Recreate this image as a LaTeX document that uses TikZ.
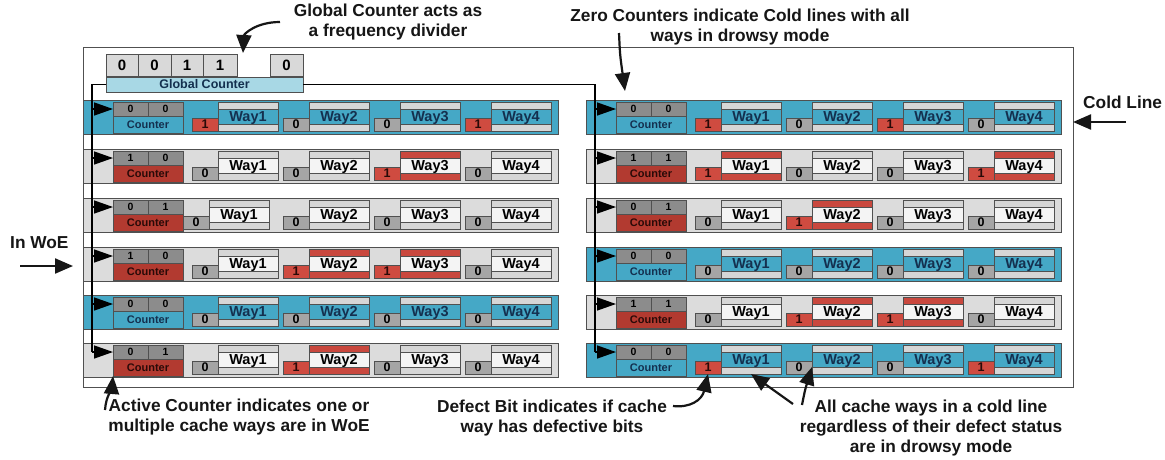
\documentclass[tikz,border=0pt]{standalone}
\usepackage{fontspec}
\setmainfont{Liberation Sans}
\usetikzlibrary{arrows.meta}
\definecolor{coldblue}{HTML}{45A8C6}
\definecolor{rowgrey}{HTML}{DCDCDC}
\definecolor{cellgrey}{HTML}{8C8C8C}
\definecolor{bitgrey}{HTML}{A5A5A5}
\definecolor{bitred}{HTML}{CF4B40}
\definecolor{stripegrey}{HTML}{D6D6D6}
\definecolor{wayred}{HTML}{C9483E}
\definecolor{cntred}{HTML}{B23A30}
\definecolor{cnttxt}{HTML}{2A0A08}
\definecolor{gcbar}{HTML}{A8D8E5}
\definecolor{gccell}{HTML}{D9D9D9}
\definecolor{wayw}{HTML}{F4F4F4}
\definecolor{edge}{HTML}{505050}
\definecolor{navy}{HTML}{14304F}
\definecolor{ink}{HTML}{161616}
\tikzset{
  rowbox/.style={draw=edge, line width=0.9pt, anchor=north west, minimum width=475pt, minimum height=34pt, inner sep=0pt, outer sep=0pt},
  cellbox/.style={draw=edge, line width=0.7pt, anchor=north west, inner sep=0pt, outer sep=0pt, font=\fontsize{10.5}{12}\selectfont\bfseries},
  cntbox/.style={draw=edge, line width=0.7pt, anchor=north west, inner sep=0pt, outer sep=0pt, minimum width=70pt, minimum height=17pt, font=\fontsize{11}{12}\selectfont\bfseries},
  bitbox/.style={draw=edge, line width=0.7pt, anchor=north west, inner sep=0pt, outer sep=0pt, minimum width=26pt, minimum height=13pt, font=\fontsize{12.5}{13}\selectfont\bfseries},
  waybox/.style={draw=edge, line width=0.7pt, anchor=north west, inner sep=0pt, outer sep=0pt, minimum width=60pt, minimum height=29pt},
  waymid/.style={draw=edge, line width=0.7pt, anchor=north west, inner sep=0pt, outer sep=0pt, minimum width=60pt, minimum height=15pt, text height=10.5pt, text depth=0pt, font=\fontsize{14.5}{15}\selectfont\bfseries},
  gcell/.style={draw=edge, line width=0.8pt, fill=gccell, anchor=north west, inner sep=0pt, outer sep=0pt, minimum height=22pt, font=\fontsize{15}{16}\selectfont\bfseries},
  gbar/.style={draw=edge, line width=0.8pt, fill=gcbar, anchor=north west, inner sep=0pt, outer sep=0pt, minimum width=197pt, minimum height=15pt, font=\fontsize{12.5}{13}\selectfont\bfseries, text=navy},
  bus/.style={draw=black, line width=1.4pt},
  busarrow/.style={draw=black, line width=1.4pt, -{Triangle[length=19pt,width=13pt]}},
  annarrow/.style={draw=ink, line width=2.2pt, -{Triangle[length=18pt,width=15pt]}},
  ann/.style={font=\fontsize{17.3}{20}\selectfont\bfseries, text=ink, align=center, inner sep=0pt},
}
\newcommand{\cacherow}[8]{%
  \ifnum#4=1 \def\rowfill{coldblue}\def\cntfill{coldblue}\def\cnttext{navy}\else\def\rowfill{rowgrey}\def\cntfill{cntred}\def\cnttext{cnttxt}\fi
  \node[rowbox, fill=\rowfill] (#1) at (#2,#3) {};
  \node[cellbox, fill=cellgrey, minimum width=35pt, minimum height=14pt] (#1a) at (#2+30,#3+2) {#5};
  \node[cellbox, fill=cellgrey, minimum width=35pt, minimum height=14pt] (#1b) at (#2+65,#3+2) {#6};
  \node[cntbox, fill=\cntfill, text=\cnttext] (#1c) at (#2+30,#3+16) {Counter};
  \foreach \dbit [count=\wi] in {#7} {
    \ifnum\wi=1 \edef\dx{#8}\else\pgfmathsetmacro\dx{109+91*(\wi-1)}\fi
    \ifnum\dbit=1 \def\bitfill{bitred}\def\bittext{cnttxt}\else\def\bitfill{bitgrey}\def\bittext{black}\fi
    \ifnum#4=1 \def\strfill{stripegrey}\def\midfill{coldblue}\def\waytext{navy}%
    \else \ifnum\dbit=1 \def\strfill{wayred}\else\def\strfill{stripegrey}\fi \def\midfill{wayw}\def\waytext{black}\fi
    \node[bitbox, fill=\bitfill, text=\bittext] (#1d\wi) at (#2+\dx,#3+18) {\dbit};
    \node[waybox, fill=\strfill] (#1w\wi) at (#2+\dx+26,#3+2) {};
    \node[waymid, fill=\midfill, text=\waytext] (#1m\wi) at (#2+\dx+26,#3+9) {Way\wi};
  }%
}
\begin{document}
\begin{tikzpicture}[x=1pt,y=-1pt]
\useasboundingbox[fill=white] (0,0) rectangle (1165,459);
% frame
\node[draw=edge, line width=0.9pt, anchor=north west, minimum width=990pt, minimum height=340pt, inner sep=0pt, outer sep=0pt] (frame) at (83,47) {};
% global counter
\node[gcell, minimum width=32pt] (g1) at (106,54) {0};
\node[gcell, minimum width=33pt] (g2) at (138,54) {0};
\node[gcell, minimum width=32pt] (g3) at (171,54) {1};
\node[gcell, minimum width=34pt] (g4) at (203,54) {1};
\node[gcell, minimum width=33pt] (g5) at (270,54) {0};
\node[gbar] (gcbar) at (106,77) {Global Counter};
% cache lines
\cacherow{L1}{83}{100}{1}{0}{0}{1,0,0,1}{109}
\cacherow{L2}{83}{149}{0}{1}{0}{0,0,1,0}{109}
\cacherow{L3}{83}{198}{0}{0}{1}{0,0,0,0}{100}
\cacherow{L4}{83}{247}{0}{1}{0}{0,1,1,0}{109}
\cacherow{L5}{83}{295}{1}{0}{0}{0,0,0,0}{109}
\cacherow{L6}{83}{343}{0}{0}{1}{0,1,0,0}{109}
\cacherow{R1}{586}{100}{1}{0}{0}{1,0,1,0}{109}
\cacherow{R2}{586}{149}{0}{1}{1}{1,0,0,1}{109}
\cacherow{R3}{586}{198}{0}{0}{1}{0,1,0,0}{109}
\cacherow{R4}{586}{247}{1}{0}{0}{0,0,0,0}{109}
\cacherow{R5}{586}{295}{0}{1}{1}{0,1,1,0}{109}
\cacherow{R6}{586}{343}{1}{0}{0}{1,0,0,1}{109}
% global counter distribution
\coordinate (lbus) at (92,84);
\coordinate (rbus) at (595,84);
\draw[bus] (gcbar.west) -| (lbus |- L6a.west);
\draw[bus] (gcbar.east) -| (rbus |- R6a.west);
\foreach \n in {L1a,L2a,L3a,L4a,L5a,L6a} \draw[busarrow] (lbus |- \n.west) -- (\n.west);
\foreach \n in {R1a,R2a,R3a,R4a,R5a,R6a} \draw[busarrow] (rbus |- \n.west) -- (\n.west);
% annotations
\node[ann] (tgc) at (388,22.5) {Global Counter acts as\\a frequency divider};
\node[ann] (tzero) at (740,27) {Zero Counters indicate Cold lines with all\\ways in drowsy mode};
\node[ann, anchor=base west] (tcold) at (1083,108) {Cold Line};
\node[ann, anchor=base west] (twoe) at (10,248) {In WoE};
\node[ann] (tact) at (239,417) {Active Counter indicates one or\\multiple cache ways are in WoE};
\node[ann] (tdef) at (552,418) {Defect Bit indicates if cache\\way has defective bits};
\node[ann] (tall) at (931,428) {All cache ways in a cold line\\regardless of their defect status\\are in drowsy mode};
\coordinate (gcgap) at (243,53);
\coordinate (coldtip) at (1073,122);
\coordinate (woetip) at (73,266);
\draw[annarrow] (280,22) .. controls (256,22) and (244,34) .. (gcgap);
\draw[annarrow] (619,33) .. controls (620,55) .. (625,91);
\draw[annarrow] (1126,122) -- (coldtip);
\draw[annarrow] (20,266) -- (woetip);
\draw[annarrow] (105,410) .. controls (106,396) and (112,388) .. (L6c.south west);
\draw[annarrow] (673,406) .. controls (690,408) and (702,400) .. (R6d1.south);
\draw[annarrow] (793,404) -- (R6w1.south);
\draw[annarrow] (802,405) .. controls (805,390) .. (R6m2.south west);
\end{tikzpicture}
\end{document}
